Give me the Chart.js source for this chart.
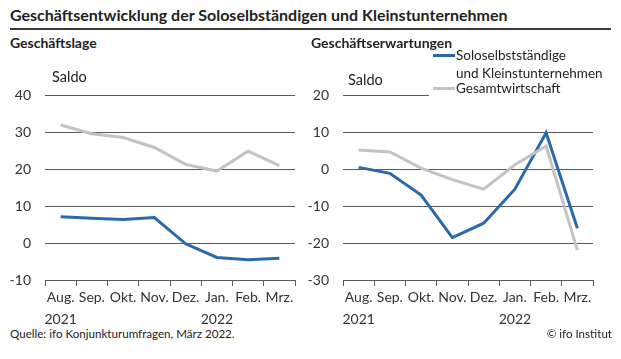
<!DOCTYPE html>
<html><head><meta charset="utf-8">
<script src="https://cdn.jsdelivr.net/npm/chart.js@4/dist/chart.umd.min.js"></script>
<style>
body{margin:0;background:#fff;width:621px;height:359px;position:relative;overflow:hidden;font-family:Lato,sans-serif;color:#222}
.t{position:absolute;white-space:nowrap}
#title{left:10px;top:5px;font-size:16px;font-weight:bold}
#rule{position:absolute;left:10px;top:28px;width:601px;height:2px;background:#3a3a3a}
.sub{top:34px;font-size:14px;font-weight:bold;z-index:5}
.saldo{font-size:14.5px}
.foot{top:327px;font-size:11.6px}
canvas{position:absolute}
#legend{position:absolute;left:429px;top:48px;width:185px;height:50px;background:#fff;font-size:13.5px;line-height:16px;z-index:1}
.lg{position:absolute;left:4px;width:22px;height:3px}
</style></head><body>
<div class="t" id="title">Geschäftsentwicklung der Soloselbständigen und Kleinstunternehmen</div>
<div id="rule"></div>
<div style="position:absolute;left:0;top:73px;width:310px;height:252px"><canvas id="c1"></canvas></div>
<div style="position:absolute;left:298px;top:73px;width:310px;height:252px"><canvas id="c2"></canvas></div>
<div class="t saldo" style="left:52px;top:68px">Saldo</div>
<div class="t saldo" style="left:348px;top:71px">Saldo</div>
<div id="legend">
  <div class="lg" style="top:6px;background:#2b6aa8"></div>
  <div class="t" style="left:27px;top:-1px">Soloselbstständige</div>
  <div class="t" style="left:27px;top:17px">und Kleinstunternehmen</div>
  <div class="lg" style="top:39px;background:#c3c3c3"></div>
  <div class="t" style="left:27px;top:32px">Gesamtwirtschaft</div>
</div>
<div class="t sub" style="left:10px">Geschäftslage</div>
<div class="t sub" style="left:311px">Geschäftserwartungen</div>
<div class="t foot" style="left:10px">Quelle: ifo Konjunkturumfragen, März 2022.</div>
<div class="t foot" style="right:9px">© ifo Institut</div>
<script>
const months = ["Aug.","Sep.","Okt.","Nov.","Dez.","Jan.","Feb.","Mrz."];
const years  = ["2021","","","","","2022","",""];
const seriesNames = ["Soloselbstständige und Kleinstunternehmen","Gesamtwirtschaft"];
const lageSolo   = [7.1, 6.7, 6.4, 6.9, -0.2, -3.9, -4.5, -4.1];
const lageGesamt = [32.0, 29.6, 28.6, 25.9, 21.3, 19.5, 24.9, 21.0];
const erwSolo    = [0.5, -1.1, -7.0, -18.5, -14.6, -5.4, 9.9, -16.0];
const erwGesamt  = [5.2, 4.7, 0.3, -2.8, -5.4, 1.2, 6.3, -21.9];
const lageTicks  = {min:-10, max:40, step:10};
const erwTicks   = {min:-30, max:20, step:10};

const labels = months.map((m,i)=>[m, years[i]]);
const BLUE="#2b6aa8", GREY="#c3c3c3", GRID="#5a5a5a", TXT="#333";

function make(id, solo, gesamt, t){
  return new Chart(document.getElementById(id), {
    type:"line",
    data:{labels, datasets:[
      {label:seriesNames[1], data:gesamt, borderColor:GREY, borderWidth:3, pointRadius:0, tension:0},
      {label:seriesNames[0], data:solo, borderColor:BLUE, borderWidth:3, pointRadius:0, tension:0}
    ]},
    options:{
      responsive:true, maintainAspectRatio:false, animation:false,
      layout:{padding:{top:9,right:15,left:0,bottom:0}},
      plugins:{legend:{display:false}, tooltip:{enabled:false}},
      scales:{
        x:{offset:true,
           grid:{offset:true, drawOnChartArea:false, drawTicks:true, tickLength:6, color:GRID},
           border:{display:true, color:GRID, width:1},
           ticks:{color:TXT, font:{family:"Lato", size:14, lineHeight:1.55}, maxRotation:0, autoSkip:false, padding:1},
           afterFit:s=>{s.height=45;}},
        y:{min:t.min, max:t.max,
           grid:{drawTicks:false, color:GRID},
           border:{display:false},
           ticks:{stepSize:t.step, color:TXT, font:{family:"Lato", size:14}, padding:14},
           afterFit:s=>{s.width=45;}}
      }
    }
  });
}
make("c1", lageSolo, lageGesamt, lageTicks);
make("c2", erwSolo, erwGesamt, erwTicks);
</script>
</body></html>
